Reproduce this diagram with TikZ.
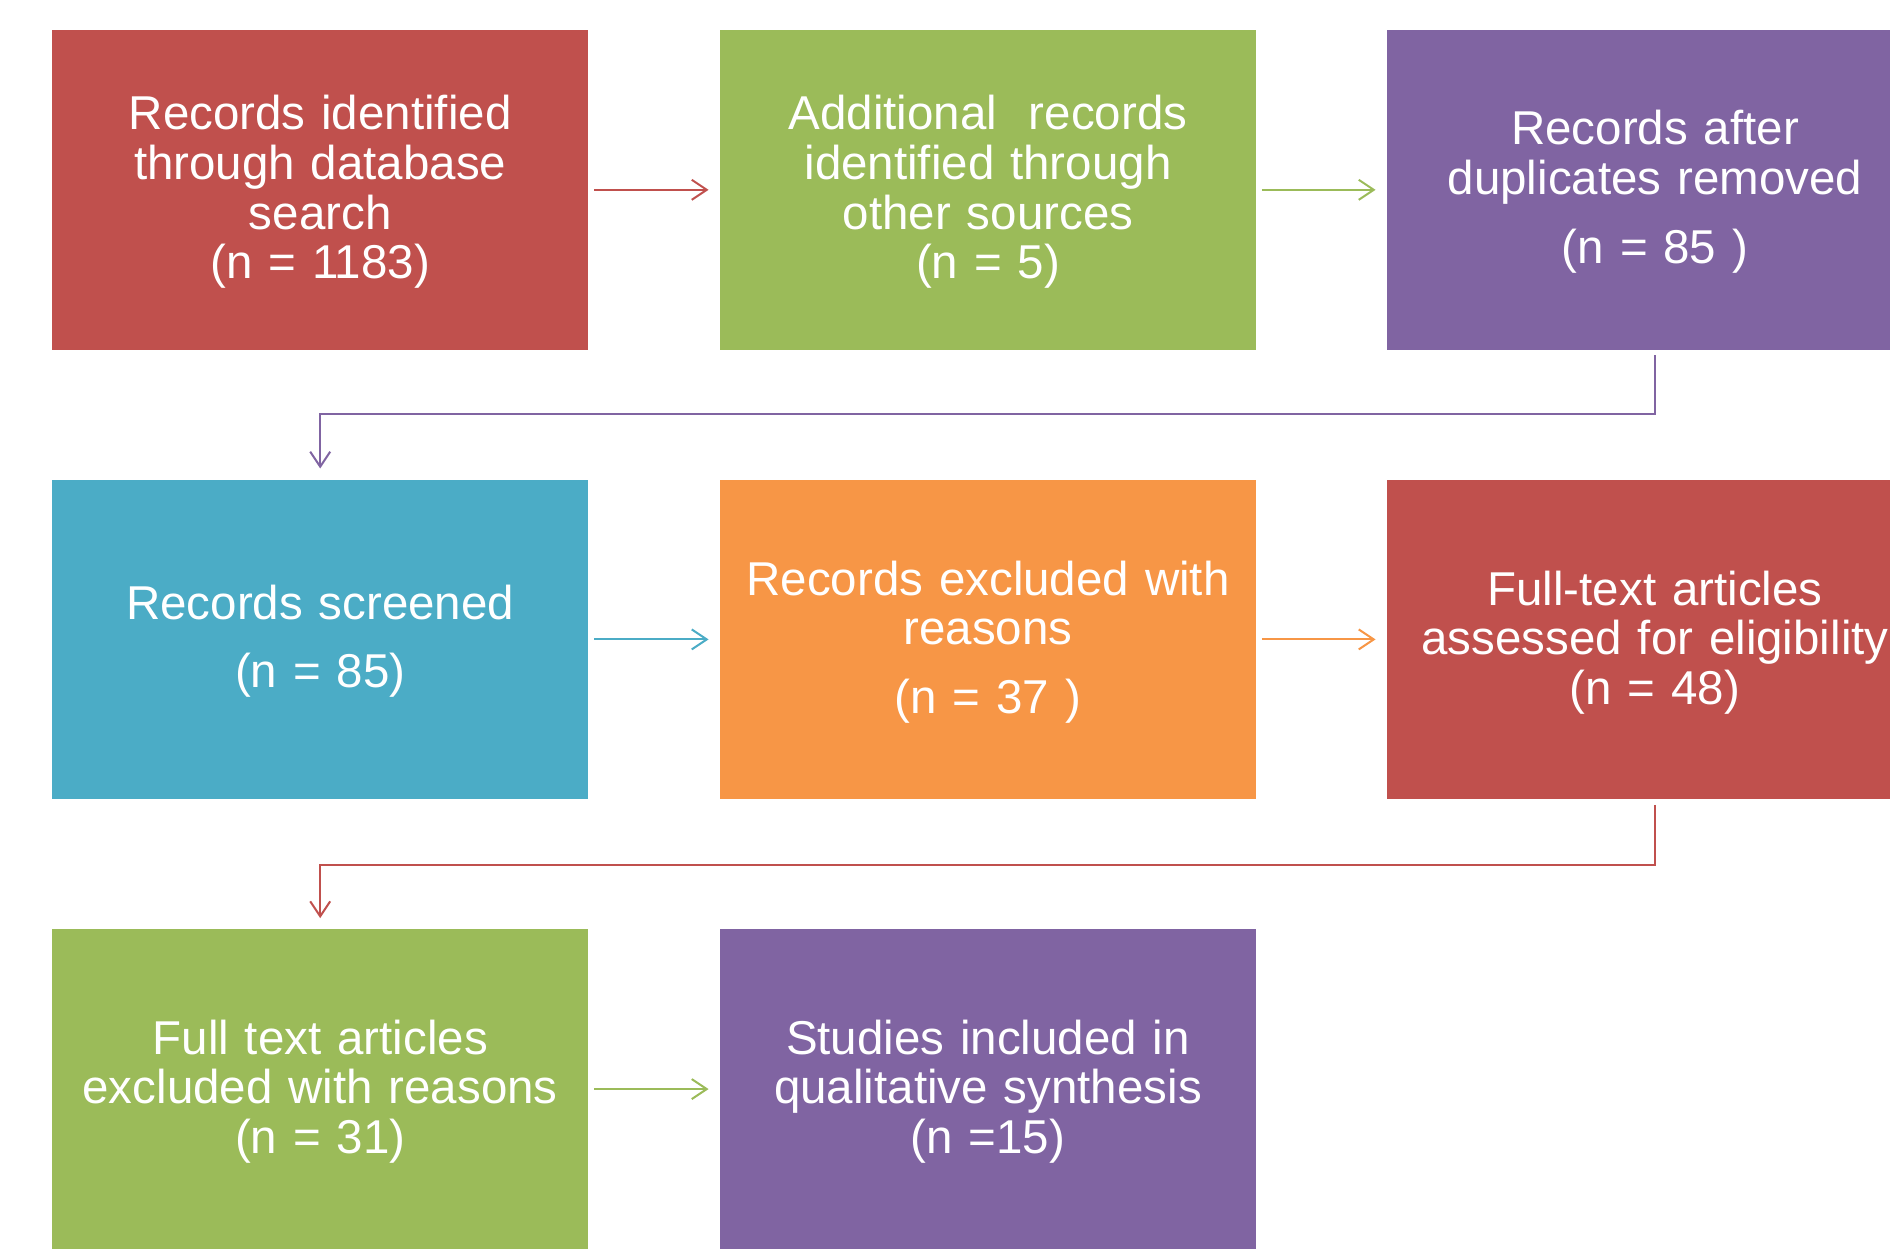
\documentclass[tikz,border=0pt]{standalone}
\usepackage{fontspec}
\setmainfont{Liberation Sans}
\usetikzlibrary{arrows.meta}
\definecolor{cred}{HTML}{C0504D}
\definecolor{cgreen}{HTML}{9BBB59}
\definecolor{cpurple}{HTML}{8064A2}
\definecolor{cblue}{HTML}{4BACC6}
\definecolor{corange}{HTML}{F79646}
\begin{document}
\begin{tikzpicture}[x=1pt,y=-1pt,
  box/.style={rectangle, minimum width=536.5pt, minimum height=319.5pt, inner sep=0pt, draw=none},
  txt/.style={anchor=base, text width=600pt, align=center, inner sep=0pt, text=white,
    font=\fontsize{47.5}{49.6}\selectfont},
  conn/.style={line width=2pt, -{Straight Barb[length=15pt,width=20pt,line width=2pt]},
    shorten <=5.5pt, shorten >=11pt}]
\useasboundingbox (0,0) rectangle (1890,1252);
\clip (0,0) rectangle (1890,1252);
% boxes
\node[box, fill=cred]    (b1) at (320.2,189.8) {};
\node[box, fill=cgreen]  (b2) at (988,189.8) {};
\node[box, fill=cpurple] (b3) at (1655,189.8) {};
\node[box, fill=cblue]   (b4) at (320.2,639.4) {};
\node[box, fill=corange] (b5) at (988,639.4) {};
\node[box, fill=cred]    (b6) at (1655,639.4) {};
\node[box, fill=cgreen]  (b7) at (320.2,1089.1) {};
\node[box, fill=cpurple] (b8) at (988,1089.1) {};
% texts
\node[txt] (t1) at (320.2,130) {Records identified\\through database\\search\\(n = 1183)};
\node[txt] (t2) at (988,130) {Additional~~records\\identified through\\other sources\\(n = 5)};
\node[txt] (t3) at (1655,145) {Records after\\duplicates removed\\[19pt](n = 85 )};
\node[txt] (t4) at (320.2,619) {Records screened\\[19pt](n = 85)};
\node[txt] (t5) at (988,595) {Records excluded with\\reasons\\[19pt](n = 37 )};
\node[txt] (t6) at (1655,605) {Full-text articles\\assessed for eligibility\\(n = 48)};
\node[txt] (t7) at (320.2,1054) {Full text articles\\excluded with reasons\\(n = 31)};
\node[txt] (t8) at (988,1054) {Studies included in\\qualitative synthesis\\(n =15)};
% connectors
\draw[conn, cred]    (b1) -- (b2);
\draw[conn, cgreen]  (b2) -- (b3);
\draw[conn, cpurple] (b3.south) -- ++(0,64.5) -| (b4.north);
\draw[conn, cblue]   (b4) -- (b5);
\draw[conn, corange] (b5) -- (b6);
\draw[conn, cred]    (b6.south) -- ++(0,65.5) -| (b7.north);
\draw[conn, cgreen]  (b7) -- (b8);
\end{tikzpicture}
\end{document}
